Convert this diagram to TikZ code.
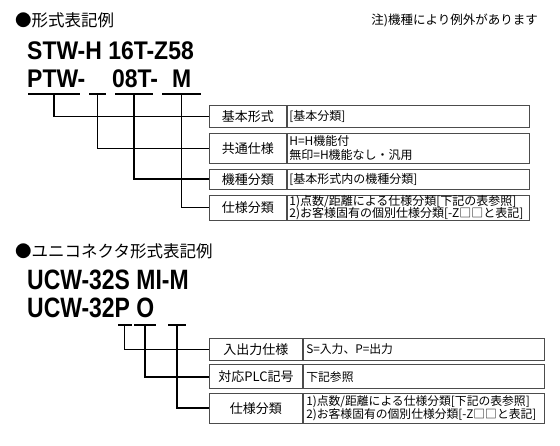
\documentclass[tikz,border=0pt]{standalone}
\usepackage{fontspec}
\setmainfont{Noto Sans CJK JP}
\newfontfamily\codefont[FakeStretch=0.9]{Liberation Sans}
\newfontfamily\ucodefont[FakeStretch=0.82]{Liberation Sans}
\usetikzlibrary{positioning}

\begin{document}
\begin{tikzpicture}[
  x=1pt, y=-1pt,
  node distance=5pt and 0pt,
  head/.style={anchor=west, inner sep=0pt, font=\fontsize{16.5}{18}\selectfont},
  code/.style={anchor=base west, inner sep=0pt, font=\codefont\bfseries\fontsize{25.5}{26}\selectfont},
  bar/.style={fill=black, inner sep=0pt, minimum height=2.6pt},
  lab/.style={draw=black!70, line width=0.9pt, inner sep=0pt, minimum width=77pt, font=\fontsize{13}{14}\selectfont},
  txt/.style={draw=black!70, line width=0.9pt, text width=238pt, inner xsep=2pt, inner ysep=0pt, align=left, font=\fontsize{12}{12.5}\selectfont},
  link/.style={line width=1.5pt}
]
\useasboundingbox (0,0) rectangle (560,446);

\node[head] (h1) at (15,20) {●形式表記例};
\node[anchor=east, inner sep=0pt, font=\fontsize{12.5}{14}\selectfont] (note) at (538,20) {注)機種により例外があります};
\node[code] (s1) at (27,60) {STW-H 16T-Z58};
\node[code] (p1) at (27,88) {PTW-};
\node[code] (p3) at (112,88) {08T-};
\node[code] (p4) at (172,88) {M};
\node[bar, minimum width=52pt] (b1) at (54,94) {};
\node[bar, minimum width=17pt] (b2) at (97.5,94) {};
\node[bar, minimum width=38pt] (b3) at (134,94) {};
\node[bar, minimum width=39pt] (b4) at (181.5,94) {};

\node[lab, anchor=north west, minimum height=22pt] (k1) at (209,105) {基本形式};
\node[lab, below=of k1, minimum height=30pt] (k2) {共通仕様};
\node[lab, below=of k2, minimum height=20pt] (k3) {機種分類};
\node[lab, below=of k3, minimum height=25pt] (k4) {仕様分類};
\node[txt, right=of k1, minimum height=22pt] (v1) {[基本分類]};
\node[txt, right=of k2, minimum height=30pt, font=\fontsize{12}{14}\selectfont] (v2) {H=H機能付\\無印=H機能なし・汎用};
\node[txt, right=of k3, minimum height=20pt] (v3) {[基本形式内の機種分類]};
\node[txt, right=of k4, minimum height=25pt] (v4) {1)点数/距離による仕様分類[下記の表参照]\\2)お客様固有の個別仕様分類[-Z□□と表記]};
\draw[link] (b1.south) |- (k1.west);
\draw[link] (b2.south) |- (k2.west);
\draw[link] (b3.south) |- (k3.west);
\draw[link] (b4.south) |- (k4.west);

\node[head] (h2) at (15,251) {●ユニコネクタ形式表記例};
\node[code, font=\ucodefont\bfseries\fontsize{28}{28}\selectfont] (u1) at (27,290) {UCW-32S MI-M};
\node[code, font=\ucodefont\bfseries\fontsize{28}{28}\selectfont] (u2) at (27,318) {UCW-32P O};
\node[bar, minimum width=14pt] (c1) at (124.5,325) {};
\node[bar, minimum width=22pt] (c2) at (145,325) {};
\node[bar, minimum width=18pt] (c3) at (177,325) {};

\node[lab, anchor=north west, minimum width=93pt, minimum height=22pt] (m1) at (209,338) {入出力仕様};
\node[lab, below=3.5pt of m1, minimum width=93pt, minimum height=24pt] (m2) {対応PLC記号};
\node[lab, below=3.5pt of m2, minimum width=93pt, minimum height=30pt] (m3) {仕様分類};
\node[txt, right=of m1, text width=235pt, inner xsep=3pt, minimum height=22pt, font=\fontsize{11.8}{12.5}\selectfont] (w1) {S=入力、P=出力};
\node[txt, right=of m2, text width=235pt, inner xsep=3pt, minimum height=24pt, font=\fontsize{11.8}{12.5}\selectfont] (w2) {下記参照};
\node[txt, right=of m3, text width=235pt, inner xsep=3pt, minimum height=30pt, font=\fontsize{11.8}{12.5}\selectfont] (w3) {1)点数/距離による仕様分類[下記の表参照]\\2)お客様固有の個別仕様分類[-Z□□と表記]};
\draw[link] (c1.south) |- (m1.west);
\draw[link] (c2.south) |- (m2.west);
\draw[link] (c3.south) |- (m3.west);
\end{tikzpicture}
\end{document}
